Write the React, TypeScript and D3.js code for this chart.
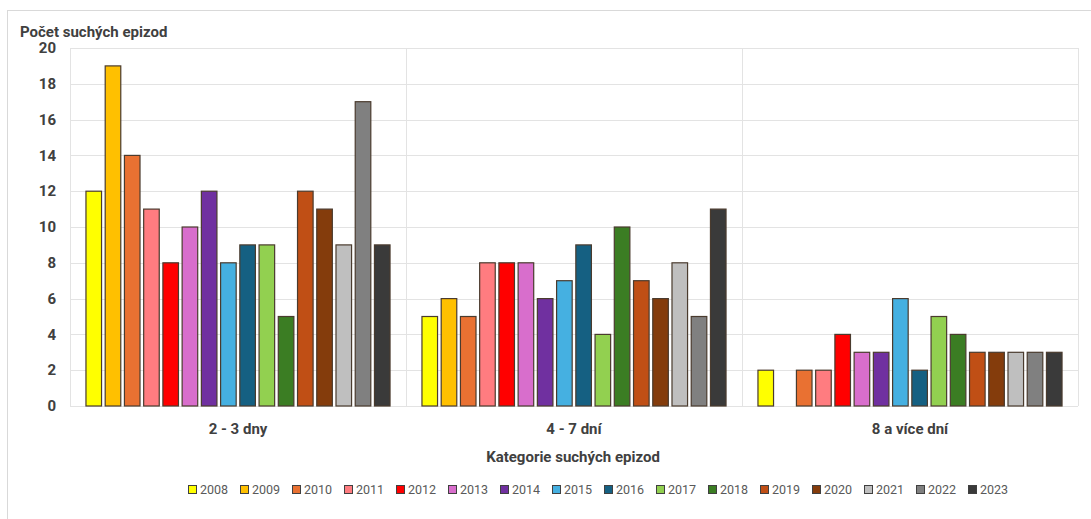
import React from "react";
import * as d3 from "d3";

const categories = ["2 - 3 dny", "4 - 7 dní", "8 a více dní"];
const years = ["2008","2009","2010","2011","2012","2013","2014","2015","2016","2017","2018","2019","2020","2021","2022","2023"];
const colors = ["#FFFF00","#FFC000","#E97132","#FF7C80","#FF0000","#D86ECC","#7030A0","#45B0E1","#156082","#92D050","#3B7D23","#C04F15","#843C0C","#BFBFBF","#808080","#3A3A3A"];
const values2to3 = [12,19,14,11,8,10,12,8,9,9,5,12,11,9,17,9];
const values4to7 = [5,6,5,8,8,8,6,7,9,4,10,7,6,8,5,11];
const values8plus = [2,0,2,2,4,3,3,6,2,5,4,3,3,3,3,3];
const yTicks = [0,2,4,6,8,10,12,14,16,18,20];

const seriesByCategory = [values2to3, values4to7, values8plus];

export default function App() {
  const W = 1091, H = 519;
  const left = 70, right = 1078, top = 48, bottom = 406;
  const x0 = d3.scaleBand().domain(categories).range([left, right]).paddingInner(0).paddingOuter(0);
  const x1 = d3.scaleBand().domain(years).range([0, x0.bandwidth()]).paddingInner(0.19).paddingOuter(0.83);
  const y = d3.scaleLinear().domain([0, 20]).range([bottom, top]);
  const font = "Roboto, 'Noto Sans', sans-serif";
  const legendStart = 188, legendStep = 52;
  return (
    <svg width={W} height={H} style={{ position: "absolute", left: 0, top: 0 }} fontFamily={font}>
      <rect x={0} y={0} width={W} height={H} fill="#fff" />
      <line x1={7} y1={10.5} x2={W} y2={10.5} stroke="#d9d9d9" />
      <line x1={7.5} y1={10} x2={7.5} y2={H} stroke="#d9d9d9" />
      {yTicks.map(t => (
        <g key={t}>
          <line x1={left} x2={right} y1={Math.round(y(t)) + 0.5} y2={Math.round(y(t)) + 0.5} stroke="#e3e3e3" strokeWidth={1} />
          <text x={56} y={y(t)} dy="0.35em" textAnchor="end" fontSize={15} fontWeight={700} fill="#404040">{t}</text>
        </g>
      ))}
      {categories.map((c) => (
        <line key={c} x1={Math.round(x0(c)!) + 0.5} x2={Math.round(x0(c)!) + 0.5} y1={top} y2={bottom} stroke="#e3e3e3" />
      ))}
      <line x1={right + 0.5} x2={right + 0.5} y1={top} y2={bottom} stroke="#e3e3e3" />
      {categories.map((c, ci) => (
        <g key={c} transform={`translate(${x0(c)},0)`}>
          {years.map((yr, yi) => {
            const v = seriesByCategory[ci][yi];
            if (!v) return null;
            return (
              <rect key={yr} x={x1(yr)} y={y(v)} width={x1.bandwidth()} height={y(0) - y(v)}
                fill={colors[yi]} stroke="#4a3b2e" strokeWidth={1.2} />
            );
          })}
          <text x={x0.bandwidth() / 2} y={429} dy="0.35em" textAnchor="middle" fontSize={15} fontWeight={700} fill="#404040">{c}</text>
        </g>
      ))}
      <text x={20} y={32} dy="0.35em" fontSize={15} fontWeight={700} fill="#404040">Počet suchých epizod</text>
      <text x={573} y={457} dy="0.35em" textAnchor="middle" fontSize={15} fontWeight={700} fill="#404040">Kategorie suchých epizod</text>
      {years.map((yr, i) => (
        <g key={yr} transform={`translate(${legendStart + i * legendStep},490)`}>
          <rect x={0.5} y={-4.5} width={8} height={8} fill={colors[i]} stroke="#404040" strokeWidth={1} />
          <text x={12} y={0} dy="0.35em" fontSize={12.5} fill="#595959">{yr}</text>
        </g>
      ))}
    </svg>
  );
}
